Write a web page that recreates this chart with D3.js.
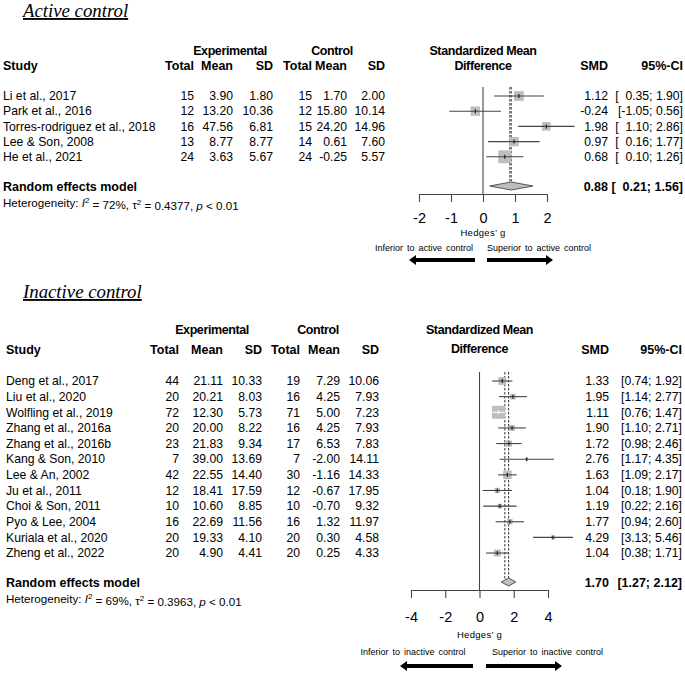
<!DOCTYPE html>
<html>
<head>
<meta charset="utf-8">
<script src="https://cdn.jsdelivr.net/npm/d3@7/dist/d3.min.js"></script>
<style>
  html, body { margin: 0; padding: 0; background: #fff; }
  svg { display: block; }
  text { font-family: "Liberation Sans", Arial, sans-serif; fill: #000; }
</style>
</head>
<body>
<svg id="chart" width="685" height="673"></svg>
<script>
// ---------------- DATA: Active control ----------------
const activeStudies   = ["Li et al., 2017", "Park et al., 2016", "Torres-rodriguez et al., 2018", "Lee & Son, 2008", "He et al., 2021"];
const activeExpTotal  = [15, 12, 16, 13, 24];
const activeExpMean   = [3.90, 13.20, 47.56, 8.77, 3.63];
const activeExpSD     = [1.80, 10.36, 6.81, 8.77, 5.67];
const activeCtlTotal  = [15, 12, 15, 14, 24];
const activeCtlMean   = [1.70, 15.80, 24.20, 0.61, -0.25];
const activeCtlSD     = [2.00, 10.14, 14.96, 7.60, 5.57];
const activeSMD       = [1.12, -0.24, 1.98, 0.97, 0.68];
const activeLower     = [0.35, -1.05, 1.10, 0.16, 0.10];
const activeUpper     = [1.90, 0.56, 2.86, 1.77, 1.26];
const activeWeight    = [18.5, 17.1, 14.3, 17.1, 32.9];
const activeSummary   = [0.88, 0.21, 1.56];   // random effects: est, lower, upper
const activeCommon    = 0.84;
const activeHet       = ["72%", "0.4377", "0.01"];
const activeTicks     = [-2, -1, 0, 1, 2];

// ---------------- DATA: Inactive control ----------------
const inactiveStudies  = ["Deng et al., 2017", "Liu et al., 2020", "Wolfling et al., 2019", "Zhang et al., 2016a", "Zhang et al., 2016b", "Kang & Son, 2010", "Lee & An, 2002", "Ju et al., 2011", "Choi & Son, 2011", "Pyo & Lee, 2004", "Kuriala et al., 2020", "Zheng et al., 2022"];
const inactiveExpTotal = [44, 20, 72, 20, 23, 7, 42, 12, 10, 16, 20, 20];
const inactiveExpMean  = [21.11, 20.21, 12.30, 20.00, 21.83, 39.00, 22.55, 18.41, 10.60, 22.69, 19.33, 4.90];
const inactiveExpSD    = [10.33, 8.03, 5.73, 8.22, 9.34, 13.69, 14.40, 17.59, 8.85, 11.56, 4.10, 4.41];
const inactiveCtlTotal = [19, 16, 71, 16, 17, 7, 30, 12, 10, 16, 20, 20];
const inactiveCtlMean  = [7.29, 4.25, 5.00, 4.25, 6.53, -2.00, -1.16, -0.67, -0.70, 1.32, 0.30, 0.25];
const inactiveCtlSD    = [10.06, 7.93, 7.23, 7.93, 7.83, 14.11, 14.33, 17.95, 9.32, 11.97, 4.58, 4.33];
const inactiveSMD      = [1.33, 1.95, 1.11, 1.90, 1.72, 2.76, 1.63, 1.04, 1.19, 1.77, 4.29, 1.04];
const inactiveLower    = [0.74, 1.14, 0.76, 1.10, 0.98, 1.17, 1.09, 0.18, 0.22, 0.94, 3.13, 0.38];
const inactiveUpper    = [1.92, 2.77, 1.47, 2.71, 2.46, 4.35, 2.17, 1.90, 2.16, 2.60, 5.46, 1.71];
const inactiveWeight   = [10.9, 5.7, 30.1, 5.9, 6.9, 1.5, 13.0, 5.1, 4.0, 5.5, 2.8, 8.6];
const inactiveSummary  = [1.70, 1.27, 2.12];
const inactiveCommon   = 1.48;
const inactiveHet      = ["69%", "0.3963", "0.01"];
const inactiveTicks    = [-4, -2, 0, 2, 4];

// ---------------- LAYOUT ----------------
const svg = d3.select("#chart");
svg.append("rect").attr("width", 685).attr("height", 673).attr("fill", "#fff");

const panels = [
  {
    title: "Active control", label: "active control",
    studies: activeStudies, expTotal: activeExpTotal, expMean: activeExpMean, expSD: activeExpSD,
    ctlTotal: activeCtlTotal, ctlMean: activeCtlMean, ctlSD: activeCtlSD,
    smd: activeSMD, lower: activeLower, upper: activeUpper, weight: activeWeight,
    summary: activeSummary, common: activeCommon, het: activeHet, ticks: activeTicks,
    L: {
      titleX: 23, titleY: 17, studyX: 3,
      headY1: 51, headY2: 66, rowY0: 96, rowStep: 15.2, sumY: 187, hetY: 203,
      cols: [194, 233, 273, 312, 347, 385], expC: 230, ctlC: 332, smdX: 608, ciX: 683,
      xRange: [419, 547], zeroTop: 87, axisY: 194, tickLabY: 218, hedgesY: 233,
      arrLabY: 248, arrY: 260, arrL: [-8, -74], arrR: [4, 70], labL: -10, labR: 4
    }
  },
  {
    title: "Inactive control", label: "inactive control",
    studies: inactiveStudies, expTotal: inactiveExpTotal, expMean: inactiveExpMean, expSD: inactiveExpSD,
    ctlTotal: inactiveCtlTotal, ctlMean: inactiveCtlMean, ctlSD: inactiveCtlSD,
    smd: inactiveSMD, lower: inactiveLower, upper: inactiveUpper, weight: inactiveWeight,
    summary: inactiveSummary, common: inactiveCommon, het: inactiveHet, ticks: inactiveTicks,
    L: {
      titleX: 23, titleY: 298, studyX: 6,
      headY1: 330, headY2: 350, rowY0: 381, rowStep: 15.64, sumY: 583, hetY: 599,
      cols: [179, 223, 262, 300, 340, 379], expC: 212, ctlC: 318, smdX: 609, ciX: 682,
      xRange: [411, 548], zeroTop: 372, axisY: 590, tickLabY: 617, hedgesY: 635,
      arrLabY: 652, arrY: 666, arrL: [-6.5, -79.5], arrR: [6.5, 82.5], labL: -14, labR: 12.5
    }
  }
];

const ROW_FS = 12.2, BOLD_FS = 12.5;
const f2raw = d3.format(".2f");
const f2 = v => f2raw(v).replace("\u2212", "-");

panels.forEach(p => {
  const L = p.L;
  const g = svg.append("g");
  const n = p.studies.length;
  const x = d3.scaleLinear().domain(d3.extent(p.ticks)).range(L.xRange);
  const y = d3.scaleLinear().domain([0, 1]).range([L.rowY0, L.rowY0 + L.rowStep]);
  const size = d3.scaleSqrt().domain([0, d3.max(p.weight)]).range([0, 13]);

  // Title
  g.append("text").attr("x", L.titleX).attr("y", L.titleY)
    .style("font-family", "'Liberation Serif', 'Times New Roman', serif")
    .style("font-style", "italic").style("font-size", "18.8px")
    .style("text-decoration", "underline")
    .text(p.title);

  // Headers
  const hb = (txt, xx, yy, anchor, extra) => {
    const e = g.append("text").attr("x", xx).attr("y", yy).attr("dy", "0.35em")
      .attr("text-anchor", anchor).style("font-weight", "bold").style("font-size", BOLD_FS + "px").text(txt);
    if (extra) e.style("letter-spacing", extra);
    return e;
  };
  hb("Experimental", L.expC, L.headY1, "middle", "-0.4px");
  hb("Control", L.ctlC, L.headY1, "middle", "-0.4px");
  hb("Study", L.studyX, L.headY2, "start");
  ["Total", "Mean", "SD", "Total", "Mean", "SD"].forEach((h, i) => hb(h, L.cols[i], L.headY2, "end"));
  hb("Standardized Mean", x(0), L.headY1, "middle", "-0.4px");
  hb("Difference", x(0), L.headY2 - (L.headY2 - L.headY1) * 0.05, "middle", "-0.4px");
  hb("SMD", L.smdX, L.headY2, "end");
  hb("95%-CI", L.ciX, L.headY2, "end");

  // Rows text
  const anyNeg = p.lower.some(v => v < 0);
  const padNum = v => (anyNeg && v >= 0 ? "\u2007" : "") + f2(v);
  const rows = d3.range(n);
  const rt = (txt, xx, yy, anchor) => g.append("text").attr("x", xx).attr("y", yy).attr("dy", "0.35em")
    .attr("text-anchor", anchor).style("font-size", ROW_FS + "px").text(txt);
  rows.forEach(i => {
    const yy = y(i);
    rt(p.studies[i], L.studyX, yy, "start");
    rt(p.expTotal[i], L.cols[0], yy, "end");
    rt(f2(p.expMean[i]), L.cols[1], yy, "end");
    rt(f2(p.expSD[i]), L.cols[2], yy, "end");
    rt(p.ctlTotal[i], L.cols[3], yy, "end");
    rt(f2(p.ctlMean[i]), L.cols[4], yy, "end");
    rt(f2(p.ctlSD[i]), L.cols[5], yy, "end");
    rt(f2(p.smd[i]), L.smdX, yy, "end");
    rt("[" + padNum(p.lower[i]) + "; " + f2(p.upper[i]) + "]", L.ciX, yy, "end");
  });

  // Summary row
  hb("Random effects model", L.studyX, L.sumY, "start");
  hb(f2(p.summary[0]), L.smdX, L.sumY, "end");
  hb("[" + padNum(p.summary[1]) + "; " + f2(p.summary[2]) + "]", L.ciX, L.sumY, "end");

  // Heterogeneity
  const het = g.append("text").attr("x", L.studyX).attr("y", L.hetY).attr("dy", "0.35em").style("font-size", "11.6px");
  het.append("tspan").text("Heterogeneity: ");
  het.append("tspan").style("font-style", "italic").text("I");
  het.append("tspan").attr("dy", "-0.45em").style("font-size", "8px").text("2");
  het.append("tspan").attr("dy", "0.45em").text(" = " + p.het[0] + ", \u03C4");
  het.append("tspan").attr("dy", "-0.45em").style("font-size", "8px").text("2");
  het.append("tspan").attr("dy", "0.45em").text(" = " + p.het[1] + ", ");
  het.append("tspan").style("font-style", "italic").text("p");
  het.append("tspan").text(" < " + p.het[2]);

  // Zero line
  g.append("line").attr("x1", x(0)).attr("x2", x(0)).attr("y1", L.zeroTop).attr("y2", L.axisY)
    .attr("stroke", "#444").attr("stroke-width", 1.1);

  // Reference dashed lines (common & random)
  [p.common, p.summary[0]].forEach(v => {
    g.append("line").attr("x1", x(v)).attr("x2", x(v)).attr("y1", L.zeroTop).attr("y2", L.sumY - 4)
      .attr("stroke", "#333").attr("stroke-width", 1).attr("stroke-dasharray", "2.5,1.5");
  });

  // Study markers
  rows.forEach(i => {
    const yy = y(i);
    const s = size(p.weight[i]);
    const inside = (x(p.upper[i]) - x(p.lower[i])) < s;
    g.append("rect").attr("x", x(p.smd[i]) - s / 2).attr("y", yy - s / 2)
      .attr("width", s).attr("height", s).attr("fill", "#bebebe");
    const col = inside ? "#fff" : "#444";
    g.append("line").attr("x1", x(p.lower[i])).attr("x2", x(p.upper[i])).attr("y1", yy).attr("y2", yy)
      .attr("stroke", col).attr("stroke-width", 1.1);
    g.append("line").attr("x1", x(p.smd[i])).attr("x2", x(p.smd[i])).attr("y1", yy - 2).attr("y2", yy + 2)
      .attr("stroke", inside ? "#fff" : "#222").attr("stroke-width", 1.2);
  });

  // Diamond
  const sy = L.sumY - 1;
  const dpts = [[x(p.summary[1]), sy], [x(p.summary[0]), sy - 4], [x(p.summary[2]), sy], [x(p.summary[0]), sy + 4]];
  g.append("polygon").attr("points", dpts.map(d => d.join(",")).join(" "))
    .attr("fill", "#bebebe").attr("stroke", "#555").attr("stroke-width", 1);

  // Axis
  const axis = d3.axisBottom(x).tickValues(p.ticks).tickSize(8).tickSizeOuter(0);
  const ag = g.append("g").attr("transform", `translate(0,${L.axisY})`).call(axis);
  ag.select(".domain").attr("stroke", "#444").attr("stroke-width", 1.1);
  ag.selectAll(".tick line").attr("stroke", "#444").attr("stroke-width", 1.1);
  ag.selectAll(".tick text").attr("y", L.tickLabY - L.axisY).attr("dy", "0.35em")
    .style("font-size", "14.5px").style("font-family", "'Liberation Sans', Arial, sans-serif").attr("fill", "#000")
    .text(d => d < 0 ? "-" + Math.abs(d) : String(d));

  // Axis label
  g.append("text").attr("x", x(0)).attr("y", L.hedgesY).attr("dy", "0.35em").attr("text-anchor", "middle")
    .style("font-size", "9.5px").style("letter-spacing", "0.3px").text("Hedges\u2019 g");

  // Direction labels
  g.append("text").attr("x", x(0) + L.labL).attr("y", L.arrLabY).attr("dy", "0.35em").attr("text-anchor", "end")
    .style("font-size", "9px").style("word-spacing", "1.5px").text("Inferior to " + p.label);
  g.append("text").attr("x", x(0) + L.labR).attr("y", L.arrLabY).attr("dy", "0.35em").attr("text-anchor", "start")
    .style("font-size", "9px").style("word-spacing", "1.5px").text("Superior to " + p.label);

  // Arrows
  const arrow = (xs, xe) => {
    const dir = Math.sign(xe - xs);
    const head = 7, hw = 5, sw = 2;
    const xb = xe - dir * head;
    const pts = [[xs, L.arrY - sw], [xb, L.arrY - sw], [xb, L.arrY - hw], [xe, L.arrY],
                 [xb, L.arrY + hw], [xb, L.arrY + sw], [xs, L.arrY + sw]];
    g.append("polygon").attr("points", pts.map(d => d.join(",")).join(" ")).attr("fill", "#000");
  };
  arrow(x(0) + L.arrL[0], x(0) + L.arrL[1]);
  arrow(x(0) + L.arrR[0], x(0) + L.arrR[1]);
});
</script>
</body>
</html>
